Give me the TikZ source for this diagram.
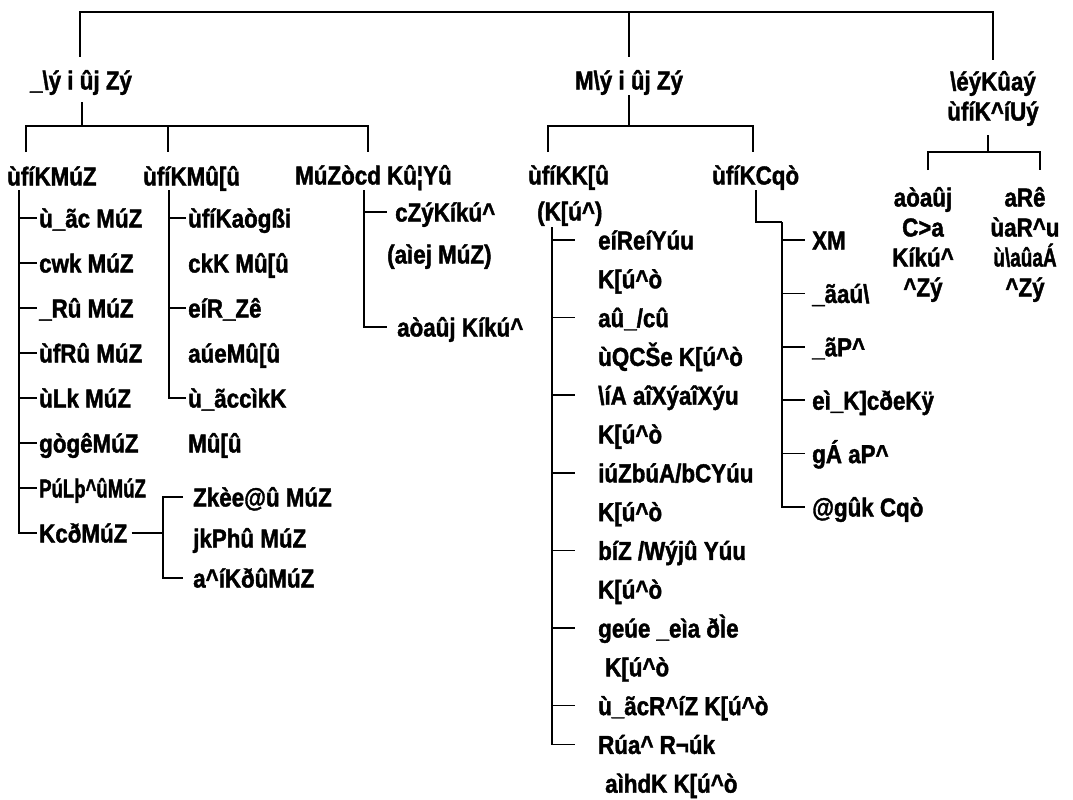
\documentclass[tikz,border=0pt]{standalone}
\usepackage{fontspec}
\setmainfont{Liberation Sans}[FakeStretch=0.86,BoldFont={Liberation Sans Bold},BoldFeatures={FakeStretch=0.86,FakeBold=1.5}]
\newcommand\bsl{\textbackslash}
\newcommand\crt{\textasciicircum}
\newcommand\sqz[2][0.85]{\scalebox{#1}[1]{#2}}
\begin{document}
\begin{tikzpicture}[x=1pt,y=-1pt,
  lbl/.style={font=\fontsize{26}{30}\selectfont\bfseries, inner sep=0pt, anchor=west, text height=19pt, text depth=0pt},
  ttl/.style={lbl, anchor=center},
  wire/.style={line width=1.6pt}]
\useasboundingbox (0,0) rectangle (1073,800);
% level 1
\node[ttl] (g1) at (81,80) {\_\bsl ý i ûj Zý};
\node[ttl] (g2) at (629,80) {M\bsl ý i ûj Zý};
\node[ttl] (g3) at (993,81) {\bsl éýKûaý};
\node[ttl] (g3b) at (993,111) {ùfíK\crt íUý};
\coordinate (top1) at (80,12);
\coordinate (top3) at (993,12);
\draw[wire] (80,57) -- (top1) -- (top3) -- (993,60);
\draw[wire] (629,12) -- (629,57);
% ---- group 1
\node[lbl] (a1) at (7,176) {ùfíKMúZ};
\node[lbl] (a2) at (143,176) {ùfíKMû[û};
\node[lbl] (a3) at (295,175) {MúZòcd Kû¦Yû};
\draw[wire] (82,102) -- (82,126);
\draw[wire] (26,152) |- (368,126) -- (368,152);
\draw[wire] (168,126) -- (168,152);
% column a1
\coordinate (ta1) at (19,190);
\foreach \t [count=\i from 0] in {ù\_ãc MúZ,cwk MúZ,\_Rû MúZ,ùfRû MúZ,ùLk MúZ,gògêMúZ,\sqz[0.83]{PúLþ\crt ûMúZ},KcðMúZ}{
  \node[lbl] (a1c\i) at (39,218+45*\i) {\t};
  \draw[wire] (ta1) |- ([xshift=-2pt]a1c\i.west);
}
% sub of KcðMúZ
\node[lbl] (k1) at (193,497) {Zkèe@û MúZ};
\node[lbl] (k2) at (193,538) {jkPhû MúZ};
\node[lbl] (k3) at (193,578) {a\crt íKðûMúZ};
\coordinate (tk) at (163,503);
\draw[wire] ([xshift=4pt]a1c7.east) -- (tk |- a1c7.east);
\draw[wire] ([xshift=-10pt]k1.west) -| (tk) |- ([xshift=-10pt]k3.west);
% column a2
\coordinate (ta2) at (169,190);
\node[lbl] (m1) at (188,218) {ùfíKaògßi};
\node[lbl] (m1b) at (188,263) {ckK Mû[û};
\node[lbl] (m2) at (188,308) {eíR\_Zê};
\node[lbl] (m2b) at (188,353) {aúeMû[û};
\node[lbl] (m3) at (188,398) {ù\_ãccìkK};
\node[lbl] (m3b) at (188,443) {Mû[û};
\foreach \n in {m1,m2,m3}{\draw[wire] (ta2) |- ([xshift=-2pt]\n.west);}
% column a3
\coordinate (ta3) at (364,190);
\node[lbl] (r1) at (395,212) {cZýKíkú\crt};
\node[lbl] (r1b) at (387,254) {(aìej MúZ)};
\node[lbl] (r2) at (397,327) {aòaûj Kíkú\crt};
\draw[wire] (ta3) |- ([xshift=-8pt]r1.west);
\draw[wire] (ta3) |- ([xshift=-10pt]r2.west);
% ---- group 2
\node[lbl] (n1) at (528,175) {ùfíKK[û};
\node[lbl] (n1b) at (537,211) {(K[ú\crt)};
\node[lbl] (n2) at (712,175) {ùfíKCqò};
\draw[wire] (629,95) -- (629,126);
\draw[wire] (548,152) |- (753,126) -- (753,152);
\coordinate (tn1) at (552,227);
\foreach \t/\b/\dx [count=\i from 0] in {eíReíYúu/1/0,K[ú\crt ò/0/0,{aû\_/cû}/1/0,ùQCŠe K[ú\crt ò/0/0,\bsl íA aîXýaîXýu/1/0,K[ú\crt ò/0/0,{iúZbúA/bCYúu}/1/0,K[ú\crt ò/0/0,{bíZ /Wýjû Yúu}/1/0,K[ú\crt ò/0/0,geúe \_eìa ðÌe/1/0,K[ú\crt ò/0/7,ù\_ãcR\crt íZ K[ú\crt ò/1/0,Rúa\crt{} R¬úk/1/0,aìhdK K[ú\crt ò/0/7}{
  \node[lbl] (nl\i) at (598+\dx,240+38.8*\i) {\t};
  \ifnum\b=1 \draw[wire] (tn1) |- ([xshift=-23pt]nl\i.west); \fi
}
% column n2
\coordinate (tn2a) at (756,190);
\coordinate (tn2) at (782,222);
\draw[wire] (tn2a) |- (tn2);
\foreach \t [count=\i from 0] in {XM,\_ãaú\bsl,\_ãP\crt,eì\_K]cðeKÿ,gÁ aP\crt,@gûk Cqò}{
  \node[lbl] (q\i) at (812,240+53.4*\i) {\t};
  \draw[wire] (tn2) |- ([xshift=-7pt]q\i.west);
}
% ---- group 3
\draw[wire] (988,135) -- (988,152);
\draw[wire] (928,170) |- (1040,152) -- (1040,170);
\node[ttl] (s1) at (923,197) {aòaûj};
\node[ttl] (s2) at (923,227) {C>a};
\node[ttl] (s3) at (923,257) {Kíkú\crt};
\node[ttl] (s4) at (923,287) {\crt Zý};
\node[ttl] (u1) at (1025,197) {aRê};
\node[ttl] (u2) at (1025,227) {ùaR\crt u};
\node[ttl] (u3) at (1025,257) {\sqz{ù\bsl aûaÁ}};
\node[ttl] (u4) at (1025,287) {\crt Zý};
\end{tikzpicture}
\end{document}
